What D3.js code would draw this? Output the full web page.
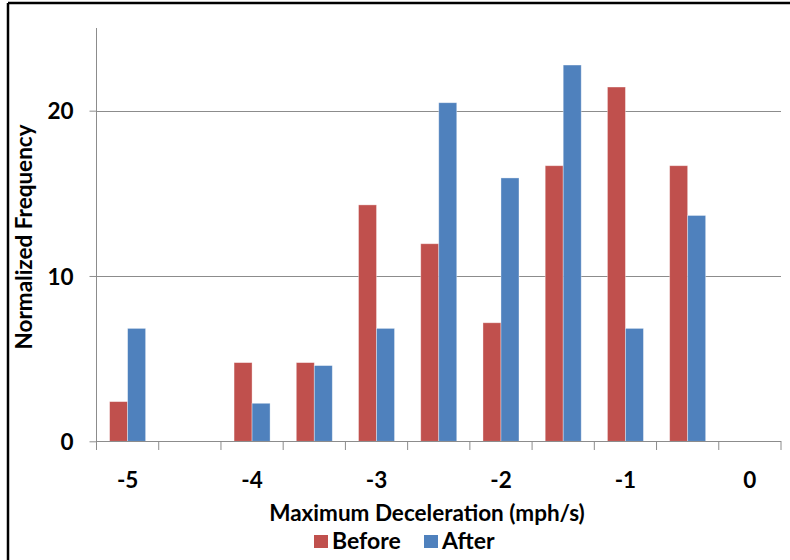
<!DOCTYPE html>
<html><head><meta charset="utf-8">
<script src="https://cdn.jsdelivr.net/npm/d3@7"></script>
<style>
html,body{margin:0;padding:0;background:#fff;}
svg{display:block;font-family:Lato,"Open Sans",sans-serif;}
</style></head>
<body>
<svg id="chart" width="790" height="560"></svg>
<script>
const categories = ["-5","-4.5","-4","-3.5","-3","-2.5","-2","-1.5","-1","-0.5","0"];
const tickLabels = ["-5","-4","-3","-2","-1","0"];
const seriesNames = ["Before","After"];
const beforeValues = [2.4, 0, 4.76, 4.76, 14.3, 11.95, 7.17, 16.67, 21.43, 16.67, 0];
const afterValues  = [6.83, 0, 2.3, 4.58, 6.83, 20.48, 15.93, 22.76, 6.83, 13.66, 0];
const yTicks = [0, 10, 20];
const colors = ["#C0504D", "#4F81BD"];

const svg = d3.select("#chart");
const pLeft = 96.5, pRight = 781, pTop = 28, pBottom = 441.3;
const fs = 22.5;

const x0 = d3.scaleBand().domain(categories).range([pLeft, pRight]).padding(0);
const x1 = d3.scaleBand().domain(seriesNames).range([0, x0.bandwidth()]).paddingInner(0).paddingOuter(0.728);
const y = d3.scaleLinear().domain([0, 25]).range([pBottom, pTop]);

// frame
svg.append("line").attr("x1", 8).attr("x2", 790).attr("y1", 3).attr("y2", 3).attr("stroke", "#000").attr("stroke-width", 2.5);
svg.append("line").attr("x1", 8).attr("x2", 8).attr("y1", 3).attr("y2", 560).attr("stroke", "#000").attr("stroke-width", 2.5);

// gridlines
svg.append("g").selectAll("line").data(yTicks.filter(d => d > 0)).join("line")
  .attr("x1", pLeft).attr("x2", pRight)
  .attr("y1", d => Math.round(y(d)) + 0.5).attr("y2", d => Math.round(y(d)) + 0.5)
  .attr("stroke", "#8c8c8c").attr("stroke-width", 1);

// bars
const rows = categories.map((c, i) => ({cat: c, vals: [beforeValues[i], afterValues[i]]}));
const g = svg.append("g").selectAll("g").data(rows).join("g")
  .attr("transform", d => `translate(${x0(d.cat)},0)`);
g.selectAll("rect").data(d => d.vals.map((v, j) => ({s: seriesNames[j], v, j}))).join("rect")
  .attr("x", d => x1(d.s)).attr("width", x1.bandwidth())
  .attr("y", d => y(d.v)).attr("height", d => y(0) - y(d.v))
  .attr("fill", d => colors[d.j])
  .attr("stroke", "rgba(255,255,255,0.45)").attr("stroke-width", 0.8);

// y axis
const yAxis = d3.axisLeft(y).tickValues(yTicks).tickSize(7).tickPadding(16).tickFormat(d3.format("d"));
const gy = svg.append("g").attr("transform", `translate(${pLeft},0)`).call(yAxis);
gy.select(".domain").attr("stroke", "#8c8c8c").attr("d", `M-0,${pTop}V${pBottom}`);
gy.selectAll(".tick line").attr("stroke", "#8c8c8c");
gy.selectAll(".tick text").attr("font-family", "Lato").attr("font-weight", "bold").attr("font-size", fs).attr("fill", "#000").attr("dy", "0.36em");

// x axis line + ticks at boundaries
const gx = svg.append("g");
gx.append("line").attr("x1", pLeft).attr("x2", pRight).attr("y1", Math.round(pBottom) + 0.5).attr("y2", Math.round(pBottom) + 0.5).attr("stroke", "#8c8c8c");
const bounds = categories.map(c => x0(c)).concat([x0.range()[1]]);
gx.selectAll("line.tk").data(bounds).join("line").attr("class", "tk")
  .attr("x1", d => d).attr("x2", d => d).attr("y1", Math.round(pBottom)).attr("y2", Math.round(pBottom) + 9)
  .attr("stroke", "#8c8c8c");
gx.selectAll("text").data(tickLabels).join("text")
  .attr("x", d => x0(d) + x0.bandwidth() / 2).attr("y", 487.5)
  .attr("text-anchor", "middle").attr("font-weight", "bold").attr("font-size", fs).attr("fill", "#000")
  .text(d => d);

// axis titles
svg.append("text").attr("x", 427).attr("y", 521).attr("text-anchor", "middle")
  .attr("font-weight", "bold").attr("font-size", fs).attr("fill", "#000")
  .text("Maximum Deceleration (mph/s)");
svg.append("text").attr("transform", "translate(32,237) rotate(-90)").attr("text-anchor", "middle")
  .attr("font-weight", "bold").attr("font-size", fs).attr("fill", "#000")
  .text("Normalized Frequency");

// legend
const legend = svg.append("g");
const legendItems = [{name: "Before", c: colors[0], x: 314}, {name: "After", c: colors[1], x: 424}];
legend.selectAll("rect").data(legendItems).join("rect")
  .attr("x", d => d.x).attr("y", 535).attr("width", 14).attr("height", 13).attr("fill", d => d.c);
legend.selectAll("text").data(legendItems).join("text")
  .attr("x", d => d.x + 18).attr("y", 549)
  .attr("font-weight", "bold").attr("font-size", 23).attr("fill", "#000")
  .text(d => d.name);
</script>
</body></html>
